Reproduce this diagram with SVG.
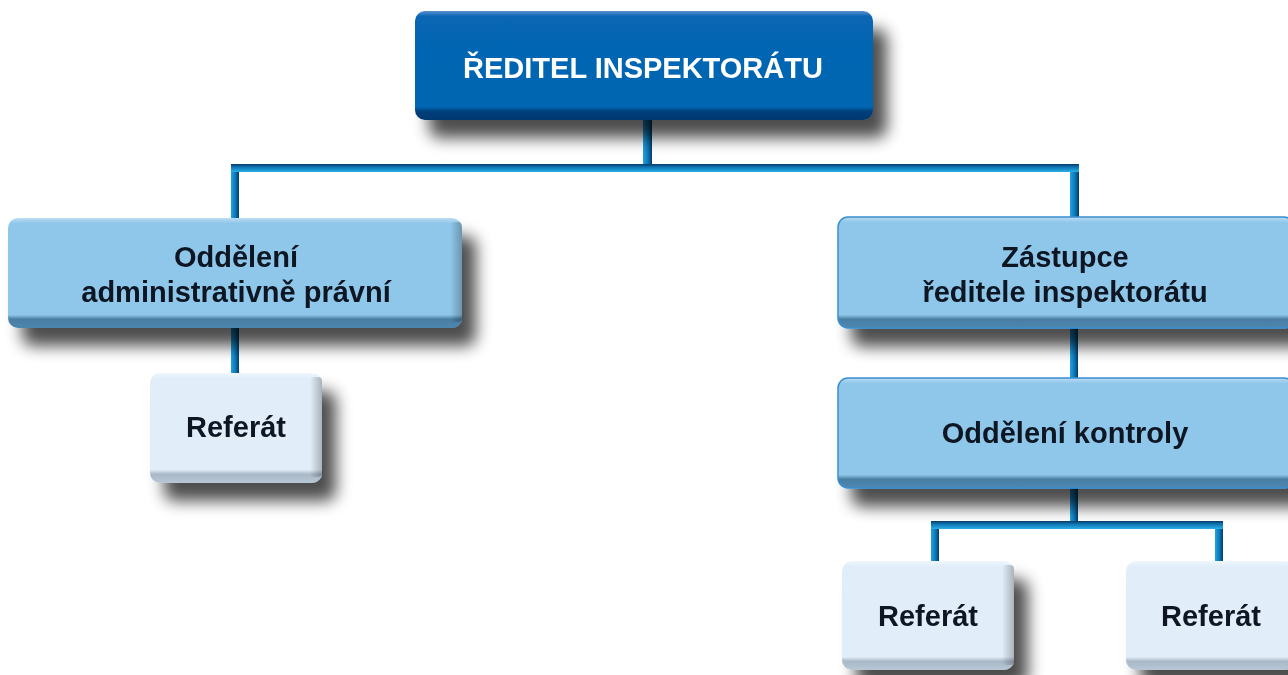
<svg xmlns="http://www.w3.org/2000/svg" width="1288" height="675" viewBox="0 0 1288 675">
<defs>
<filter id="sh" x="-20%" y="-30%" width="150%" height="190%">
<feGaussianBlur in="SourceAlpha" stdDeviation="8"/>
<feOffset dx="14" dy="18" result="b"/>
<feComponentTransfer><feFuncA type="linear" slope="0.7"/></feComponentTransfer>
<feMerge><feMergeNode/><feMergeNode in="SourceGraphic"/></feMerge>
</filter>
<linearGradient id="gTop" x1="0" y1="0" x2="0" y2="1">
<stop offset="0" stop-color="#5b8fcc"/>
<stop offset="0.05" stop-color="#0766b3"/>
<stop offset="0.88" stop-color="#0466b2"/>
<stop offset="0.92" stop-color="#033f7c"/>
<stop offset="1" stop-color="#02386f"/>
</linearGradient>
<linearGradient id="gMid" x1="0" y1="0" x2="0" y2="1">
<stop offset="0" stop-color="#bcdcf3"/>
<stop offset="0.05" stop-color="#8fc7ea"/>
<stop offset="0.88" stop-color="#8fc7ea"/>
<stop offset="0.92" stop-color="#4a7ea4"/>
<stop offset="1" stop-color="#4c86b0"/>
</linearGradient>
<linearGradient id="gLight" x1="0" y1="0" x2="0" y2="1">
<stop offset="0" stop-color="#f0f6fc"/>
<stop offset="0.05" stop-color="#e1eef9"/>
<stop offset="0.88" stop-color="#e1eef9"/>
<stop offset="0.92" stop-color="#a9b8c6"/>
<stop offset="1" stop-color="#b7c7d6"/>
</linearGradient>
<linearGradient id="gRight" x1="0" y1="0" x2="1" y2="0">
<stop offset="0" stop-color="#000" stop-opacity="0"/>
<stop offset="1" stop-color="#000" stop-opacity="0.25"/>
</linearGradient>
<linearGradient id="cH" x1="0" y1="0" x2="0" y2="1">
<stop offset="0" stop-color="#083a66"/>
<stop offset="0.4" stop-color="#0d76b5"/>
<stop offset="1" stop-color="#2aaee6"/>
</linearGradient>
<linearGradient id="cV" x1="0" y1="0" x2="1" y2="0">
<stop offset="0" stop-color="#20a4e0"/>
<stop offset="0.55" stop-color="#0c78b8"/>
<stop offset="1" stop-color="#083a66"/>
</linearGradient>
</defs>
<style>
.t{font-family:"Liberation Sans",Arial,sans-serif;font-weight:bold;font-size:29px;text-anchor:middle;fill:#0e1722}
.tw{fill:#ffffff}
.h{fill:url(#cH)}
.v{fill:url(#cV)}
</style>
<g id="connectors">
<rect class="v" x="643" y="118" width="9" height="50"/>
<rect class="v" x="231" y="164" width="8" height="56"/>
<rect class="v" x="1070" y="164" width="9" height="56"/>
<rect class="h" x="231" y="164" width="848" height="8"/>
<rect class="v" x="231" y="326" width="8" height="49"/>
<rect class="v" x="1070" y="326" width="8" height="54"/>
<rect class="v" x="1070" y="486" width="8" height="38"/>
<rect class="v" x="931" y="521" width="8" height="42"/>
<rect class="v" x="1215" y="521" width="8" height="42"/>
<rect class="h" x="931" y="521" width="292" height="8"/>
</g>
<g id="n-reditel" filter="url(#sh)">
<rect x="415" y="11" width="458" height="109" rx="10" fill="url(#gTop)"/>
<text class="t tw" x="643" y="78">ŘEDITEL INSPEKTORÁTU</text>
</g>
<g id="n-oddeleni-admin" filter="url(#sh)">
<rect x="8" y="218" width="454" height="110" rx="10" fill="url(#gMid)"/>
<rect x="450" y="222" width="12" height="100" rx="4" fill="url(#gRight)"/>
<text class="t" x="236" y="267">Oddělení</text>
<text class="t" x="236" y="302">administrativně právní</text>
</g>
<g id="n-referat-1" filter="url(#sh)">
<rect x="150" y="373" width="172" height="110" rx="10" fill="url(#gLight)"/>
<rect x="310" y="377" width="12" height="100" rx="4" fill="url(#gRight)"/>
<text class="t" x="236" y="437">Referát</text>
</g>
<g id="n-zastupce" filter="url(#sh)">
<rect x="838" y="217" width="456" height="111" rx="10" fill="url(#gMid)" stroke="#3a8fd0" stroke-width="1.5"/>
<text class="t" x="1065" y="267">Zástupce</text>
<text class="t" x="1065" y="302">ředitele inspektorátu</text>
</g>
<g id="n-oddeleni-kontroly" filter="url(#sh)">
<rect x="838" y="378" width="456" height="110" rx="10" fill="url(#gMid)" stroke="#3a8fd0" stroke-width="1.5"/>
<text class="t" x="1065" y="443">Oddělení kontroly</text>
</g>
<g id="n-referat-2" filter="url(#sh)">
<rect x="842" y="561" width="172" height="109" rx="10" fill="url(#gLight)"/>
<rect x="1002" y="565" width="12" height="100" rx="4" fill="url(#gRight)"/>
<text class="t" x="928" y="626">Referát</text>
</g>
<g id="n-referat-3" filter="url(#sh)">
<rect x="1126" y="561" width="170" height="109" rx="10" fill="url(#gLight)"/>
<text class="t" x="1211" y="626">Referát</text>
</g>
</svg>
